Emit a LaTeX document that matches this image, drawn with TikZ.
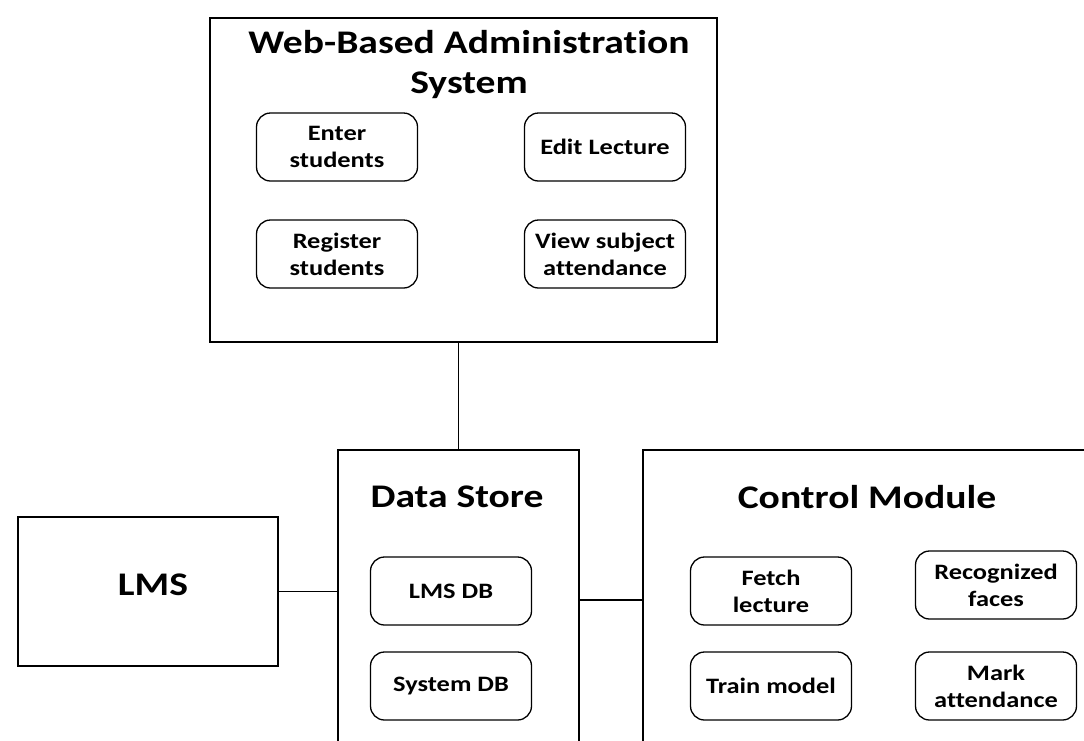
\documentclass[tikz,border=0pt]{standalone}
\usepackage{fontspec}
\setmainfont[FakeStretch=1.2,Ligatures=NoCommon]{Carlito}
\begin{document}
\begin{tikzpicture}[x=1pt,y=-1pt,
  outer/.style={draw=black,line width=1.4pt,minimum width=#1,inner sep=0pt},
  item/.style={draw=black,line width=1.3pt,rounded corners=14pt,minimum width=161pt,minimum height=68pt,inner sep=0pt,align=center,font=\fontsize{22}{27}\selectfont\bfseries},
  ttl/.style={font=\fontsize{33}{40}\selectfont\bfseries,align=center,inner sep=0pt},
  conn/.style={line width=1.4pt}]
\clip (0,0) rectangle (1084,740);
\fill[white] (0,0) rectangle (1084,740);
% web box
\node[outer=507pt,minimum height=324pt] (web) at (463.5,180) {};
\node[ttl] (webt) at (469,65) {Web-Based Administration\\System};
\node[item] (enter) at (337,147) {Enter\\students};
\node[item] (edit) at (605,147) {Edit Lecture};
\node[item] (reg) at (337,254) {Register\\students};
\node[item] (view) at (605,254) {View subject\\attendance};
% LMS
\node[outer=260pt,minimum height=149pt] (lms) at (148,591.5) {};
\node[ttl] (lmst) at (153,585) {LMS};
% data store
\node[outer=241pt,minimum height=300pt] (ds) at (458.5,600) {};
\node[ttl] (dst) at (457,497) {Data Store};
\node[item] (lmsdb) at (451,591) {LMS DB};
\node[item] (sysdb) at (451,686) {System DB};
% control module
\node[outer=460pt,minimum height=300pt] (cm) at (873,600) {};
\node[ttl] (cmt) at (867,497) {Control Module};
\node[item] (fetch) at (771,591) {Fetch\\lecture};
\node[item] (recog) at (996,585) {Recognized\\faces};
\node[item] (train) at (771,686) {Train model};
\node[item] (mark) at (996,686) {Mark\\attendance};
% connectors
\draw[conn] (ds.north) -- (ds.north |- web.south);
\draw[conn] (lms.east) -- (lms.east -| ds.west);
\draw[conn] (ds.east) -- (ds.east -| cm.west);
\end{tikzpicture}
\end{document}
